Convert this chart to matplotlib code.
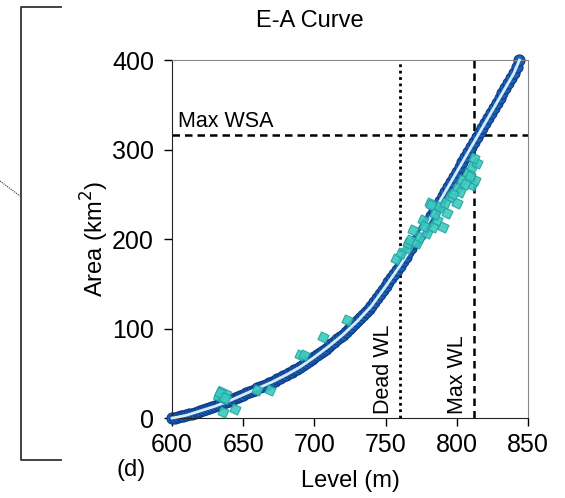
import matplotlib
matplotlib.use("Agg")
import matplotlib.pyplot as plt
from matplotlib.lines import Line2D

plt.rcParams['font.family'] = ['Liberation Sans', 'DejaVu Sans']

# E-A curve (level in m, area in km2), read every 2 m
curve_level = list(range(600, 846, 2))
curve_area = [0, 0.5, 1, 1.7, 2.3, 3, 4, 5, 6, 7, 8, 9, 10, 11, 12,
              13, 14.2, 15.4, 16.6, 17.8, 19, 20.4, 21.8, 23.2, 24.6,
              26, 27.4, 28.8, 30.2, 31.6, 33, 34.4, 35.8, 37.2, 38.6,
              40, 41.6, 43.2, 44.8, 46.4, 48, 49.8, 51.6, 53.4, 55.2,
              57, 59.2, 61.4, 63.6, 65.8, 68, 70.4, 72.8, 75.2, 77.6,
              80, 82.6, 85.2, 87.8, 90.4, 93, 96, 99, 102, 105,
              108, 111.4, 114.8, 118.2, 121.6, 125, 129.4, 133.8, 138.2, 142.6,
              147, 151.6, 156.2, 160.8, 165.4, 170, 175, 180, 185, 190,
              195, 200, 205, 210, 215, 220, 225.5, 231, 236.5, 242,
              247.5, 253, 258.5, 264, 269.5, 275, 280.5, 286, 291.5, 297,
              302.5, 308, 313.5, 319, 324.5, 330, 335.5, 341, 346.5, 352,
              357.5, 363, 368.5, 374, 379.5, 385, 392.5, 400]

# observed points
obs_level = [635, 636, 634, 637, 644, 636, 659.5, 669, 690, 693, 706, 723,
             757, 761, 765, 766, 769, 767, 772, 774, 776, 779, 781, 782, 783, 786, 788,
             790, 793, 795, 800, 800, 802, 804, 808, 811, 811, 813, 814, 812, 809, 806,
             797, 792, 785, 777]
obs_area = [26, 24, 28, 22, 10, 7, 31, 31, 70, 70, 91, 110,
            178, 184, 190, 195, 210, 199, 196, 202, 221, 207, 240, 238, 213, 221, 236,
            213, 229, 247, 257, 240, 252, 266, 274, 281, 260, 266, 285, 290, 270, 262,
            250, 240, 228, 214]
obs_size = [14, 9, 9, 9, 8.5, 8.5, 8.5, 8.5, 8.5, 8.5, 8.5, 8.5,
            8.5, 8.5, 8.5, 8.5, 8.5, 8.5, 8.5, 8.5, 8.5, 8.5, 8.5, 8.5, 8.5, 8.5, 8.5,
            8.5, 8.5, 8.5, 8.5, 8.5, 8.5, 8.5, 8.5, 8.5, 8.5, 8.5, 8.5, 8.5, 8.5, 8.5,
            8.5, 8.5, 8.5, 8.5]

dead_wl = 760
max_wl = 812
max_wsa = 316

x_ticks = [600, 650, 700, 750, 800, 850]
y_ticks = [0, 100, 200, 300, 400]

fig = plt.figure(figsize=(5.65, 4.98), dpi=100)
ax = fig.add_axes([172/565, 1-418/498, (528-172)/565, (418-60)/498])

ax.plot(curve_level, curve_area, 'o', ms=8, mfc='#1f5fb0', mec='#0b3b86', mew=0.8,
        zorder=2, clip_on=False)
ax.plot(curve_level, curve_area, '-', color='#d4ecfb', lw=2.0, zorder=3, clip_on=False)
for lv, ar, s in zip(obs_level, obs_area, obs_size):
    ax.plot(lv, ar, marker=(4, 0, 20), ms=s, mfc='#3cc9c0', mec='#22a39d', mew=0.8,
            alpha=0.9, ls='none', zorder=4)

ax.axhline(max_wsa, color='black', ls=(0, (3, 2)), lw=1.8, zorder=1)
ax.axvline(dead_wl, color='black', ls=(0, (1, 1.3)), lw=2, zorder=1)
ax.axvline(max_wl, color='black', ls=(0, (3, 2)), lw=1.8, zorder=1)

ax.text(604, 320, 'Max WSA', fontsize=15.5, ha='left', va='bottom')
ax.text(756, 5, 'Dead WL', fontsize=15.5, rotation=90, ha='right', va='bottom')
ax.text(808, 5, 'Max WL', fontsize=15.5, rotation=90, ha='right', va='bottom')

ax.set_xlim(600, 850)
ax.set_ylim(0, 400)
ax.set_xticks(x_ticks)
ax.set_yticks(y_ticks)
ax.tick_params(direction='out', length=6, width=1, labelsize=18)
ax.tick_params(axis='y', pad=7)
ax.tick_params(axis='x', pad=5)
for s in ['top', 'right']:
    ax.spines[s].set_color('#888888')
for s in ['left', 'bottom']:
    ax.spines[s].set_color('#222222')
ax.set_xlabel('Level (m)', fontsize=17, labelpad=9)
ax.set_ylabel('Area (km$^2$)', fontsize=17, labelpad=1)

fig.text(310/565, 1-21/498, 'E-A Curve', fontsize=17, ha='center', va='center')
fig.text(131/565, 1-470/498, '(d)', fontsize=17, ha='center', va='center')

# bracket on left
fig.add_artist(Line2D([61/565, 21/565, 21/565, 61/565],
                      [1-7/498, 1-7/498, 1-460/498, 1-460/498],
                      color='#333333', lw=1.3))
fig.add_artist(Line2D([0, 20/565], [1-181/498, 1-196/498],
                      color='#333333', lw=0.8, ls=(0, (1, 1))))

fig.savefig('out.png', dpi=100)
